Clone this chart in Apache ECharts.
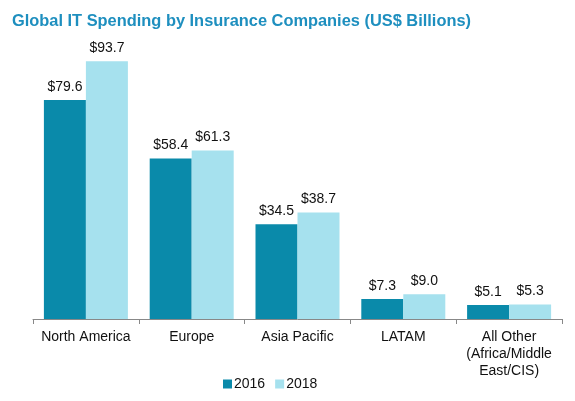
<!DOCTYPE html>
<html>
<head>
<meta charset="utf-8">
<script src="https://cdn.jsdelivr.net/npm/echarts@6/dist/echarts.min.js"></script>
<style>
  html, body { margin: 0; padding: 0; background: #fff; }
  #chart { width: 575px; height: 401px; }
</style>
</head>
<body>
<div id="chart"></div>
<script>
var categories = ['North America', 'Europe', 'Asia Pacific', 'LATAM', 'All Other\n(Africa/Middle\nEast/CIS)'];
var values2016 = [79.6, 58.4, 34.5, 7.3, 5.1];
var values2018 = [93.7, 61.3, 38.7, 9.0, 5.3];

var myChart = echarts.init(document.getElementById('chart'));

var labelStyle = {
    show: true,
    position: 'top',
    distance: 6,
    color: '#111',
    fontFamily: 'Liberation Sans',
    fontSize: 14,
    formatter: function (p) { return '$' + p.value.toFixed(1); }
};

option = {
    backgroundColor: '#fff',
    animation: false,
    title: {
        text: 'Global IT Spending by Insurance Companies (US$ Billions)',
        left: 7,
        top: 8,
        textStyle: {
            color: '#1E8FBF',
            fontFamily: 'Liberation Sans',
            fontSize: 16.4,
            fontWeight: 'bold'
        }
    },
    legend: {
        bottom: 5,
        left: 218,
        itemWidth: 9,
        itemHeight: 9,
        itemGap: 10,
        icon: 'rect',
        textStyle: { color: '#111', fontFamily: 'Liberation Sans', fontSize: 14, padding: [0, 0, 0, -3] },
        data: ['2016', '2018']
    },
    grid: {
        left: 33,
        right: 13,
        top: 44,
        bottom: 82
    },
    xAxis: {
        type: 'category',
        data: categories,
        axisLine: { lineStyle: { color: '#888', width: 1 } },
        axisTick: { show: true, length: 5, lineStyle: { color: '#888' } },
        axisLabel: {
            color: '#111',
            fontFamily: 'Liberation Sans',
            fontSize: 14,
            margin: 10,
            lineHeight: 17,
            interval: 0
        }
    },
    yAxis: {
        type: 'value',
        min: 0,
        max: 100,
        show: false,
        splitLine: { show: false }
    },
    series: [
        {
            name: '2016',
            type: 'bar',
            data: values2016,
            barWidth: 42,
            barGap: '0%',
            itemStyle: { color: '#0A8AAA' },
            label: labelStyle
        },
        {
            name: '2018',
            type: 'bar',
            data: values2018,
            barWidth: 42,
            barGap: '0%',
            itemStyle: { color: '#A6E1EE' },
            label: labelStyle
        }
    ]
};

myChart.setOption(option);
</script>
</body>
</html>
